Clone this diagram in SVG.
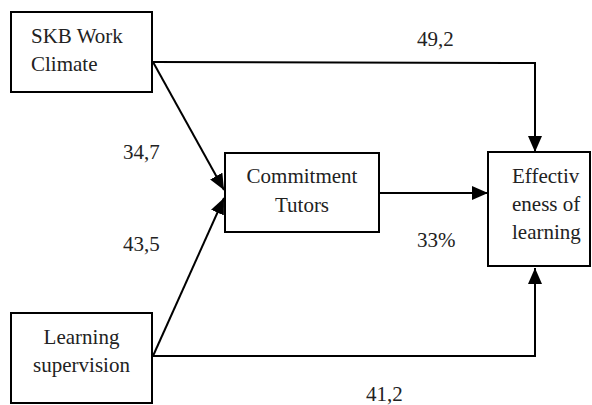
<svg xmlns="http://www.w3.org/2000/svg" width="592" height="405" viewBox="0 0 592 405">
<style>
.box{fill:#fff;stroke:#000;stroke-width:2}
.t{font-family:'Liberation Serif','Times New Roman','DejaVu Serif',serif;font-size:21px;fill:#222}
.c{text-anchor:middle}
.ln{fill:none;stroke:#000;stroke-width:2}
.ar{marker-end:url(#ah)}
</style>
<defs>
<marker id="ah" viewBox="0 0 16 14" refX="16" refY="7" markerWidth="16" markerHeight="14" markerUnits="userSpaceOnUse" orient="auto">
<path d="M0,0 L16,7 L0,14 z" fill="#000"/>
</marker>
</defs>
<g id="connectors">
<path class="ln ar" d="M153,62 L535,63 L535,152"/>
<path class="ln ar" d="M153,356 L535,356 L535,268"/>
<path class="ln ar" d="M153,62 L224,190"/>
<path class="ln ar" d="M153,356 L224,198"/>
<path class="ln ar" d="M379,193 L488,193"/>
</g>
<g id="labels" font-family="Liberation Serif, serif">
<text class="t" x="417" y="46">49,2</text>
<text class="t" x="123" y="159">34,7</text>
<text class="t" x="123" y="251">43,5</text>
<text class="t" x="417" y="247">33%</text>
<text class="t" x="366" y="401">41,2</text>
</g>
<g id="skb">
<rect class="box" x="11" y="12" width="141" height="80"/>
<text class="t" x="31" y="43">SKB Work</text>
<text class="t" x="31" y="71">Climate</text>
</g>
<g id="commitment">
<rect class="box" x="225" y="153" width="154" height="79"/>
<text class="t c" x="302" y="183">Commitment</text>
<text class="t c" x="302" y="212">Tutors</text>
</g>
<g id="effectiveness">
<rect class="box" x="488" y="152" width="102" height="114"/>
<text class="t" x="512" y="183">Effectiv</text>
<text class="t" x="512" y="211">eness of</text>
<text class="t" x="512" y="239">learning</text>
</g>
<g id="learning">
<rect class="box" x="11" y="313" width="141" height="90"/>
<text class="t c" x="81.5" y="344">Learning</text>
<text class="t c" x="81.5" y="372">supervision</text>
</g>
</svg>
